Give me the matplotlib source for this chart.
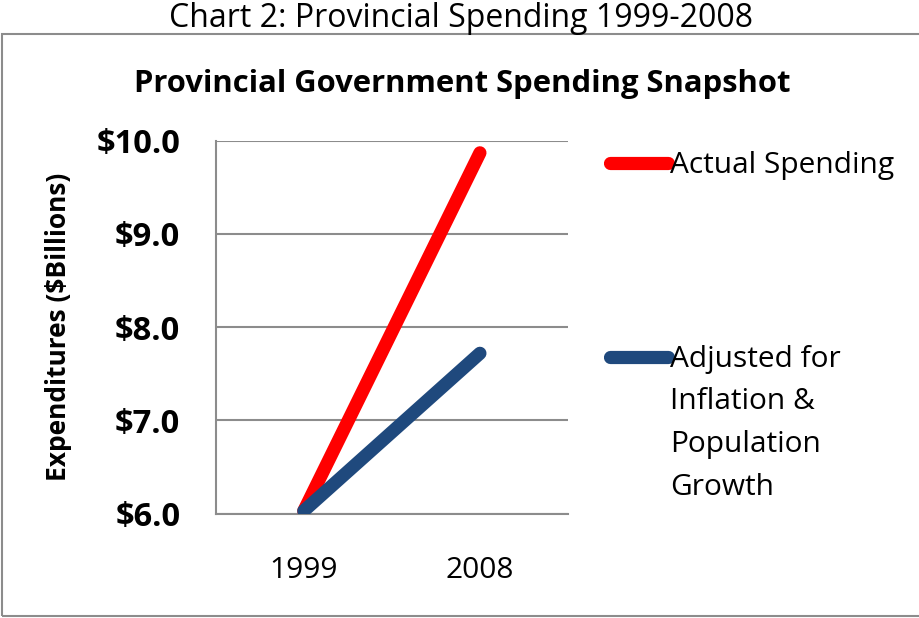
import matplotlib
matplotlib.use("Agg")
import matplotlib.pyplot as plt
from matplotlib.lines import Line2D
from matplotlib.patches import Rectangle

# Data
years = ["1999", "2008"]
actual_spending = [6.03, 9.87]
adjusted_spending = [6.03, 7.72]
series_labels = ["Actual Spending", "Adjusted for\nInflation &\nPopulation\nGrowth"]
series_colors = ["#FF0000", "#1F497D"]
y_ticks = [6.0, 7.0, 8.0, 9.0, 10.0]
y_tick_labels = ["$6.0", "$7.0", "$8.0", "$9.0", "$10.0"]

W, H = 920, 618
plt.rcParams["font.family"] = ["Open Sans", "DejaVu Sans"]

fig = plt.figure(figsize=(W / 100, H / 100), dpi=100)
fig.patch.set_facecolor("white")


def px(x, y):
    return x / W, 1 - y / H


# Outer frame
fig.patches.append(Rectangle(px(2, 616), (W + 10) / W, (616 - 34) / H,
                             transform=fig.transFigure, fill=False,
                             edgecolor="#8C8C8C", linewidth=1.5))

fig.text(*px(461, 27), "Chart 2: Provincial Spending 1999-2008",
         ha="center", va="baseline", fontsize=23)
fig.text(*px(462, 92), "Provincial Government Spending Snapshot",
         ha="center", va="baseline", fontsize=22.3, fontweight="bold")

left, right, top, bottom = 215.7, 568, 140.7, 513.7
ax = fig.add_axes([left / W, 1 - bottom / H, (right - left) / W, (bottom - top) / H])

x = list(range(len(years)))
series = [actual_spending, adjusted_spending]
for vals, color in zip(series, series_colors):
    ax.plot(x, vals, color=color, linewidth=9.5, solid_capstyle="round", zorder=3)

ax.set_xlim(-0.5, len(years) - 0.5)
ax.set_ylim(6.0, 10.0)
ax.set_yticks(y_ticks)
ax.set_yticklabels(y_tick_labels, fontsize=23.5, fontweight="bold")
ax.set_xticks(x)
ax.set_xticklabels(years, fontsize=21.5)
ax.tick_params(axis="both", length=0)
ax.tick_params(axis="y", pad=25.5)
ax.tick_params(axis="x", pad=30.5)
ax.yaxis.grid(True, color="#8C8C8C", linewidth=1.5)
ax.set_axisbelow(True)
for s in ["top", "right"]:
    ax.spines[s].set_visible(False)
for s in ["left", "bottom"]:
    ax.spines[s].set_color("#8C8C8C")
    ax.spines[s].set_linewidth(1.5)
ax.set_ylabel("Expenditures ($Billions)", fontsize=19, fontweight="bold")
ax.yaxis.set_label_coords((59 - left) / (right - left), (bottom - 327) / (bottom - top))
ax.yaxis.label.set_verticalalignment("center")

# Legend: line sample beside each label; multi-line labels are anchored
# on the baseline of their last line
legend_baselines = [173, 367]
line_step = 42.7
for ly, label, color in zip(legend_baselines, series_labels, series_colors):
    x0, y0 = px(610, ly - 10)
    x1, _ = px(668, ly - 10)
    fig.add_artist(Line2D([x0, x1], [y0, y0], transform=fig.transFigure,
                          color=color, linewidth=9.5, solid_capstyle="round"))
    n_lines = label.count("\n") + 1
    fig.text(*px(670, ly + (n_lines - 1) * line_step), label, ha="left",
             va="baseline", fontsize=21.5, linespacing=1.63)

fig.savefig("out.png", dpi=100, facecolor="white")
